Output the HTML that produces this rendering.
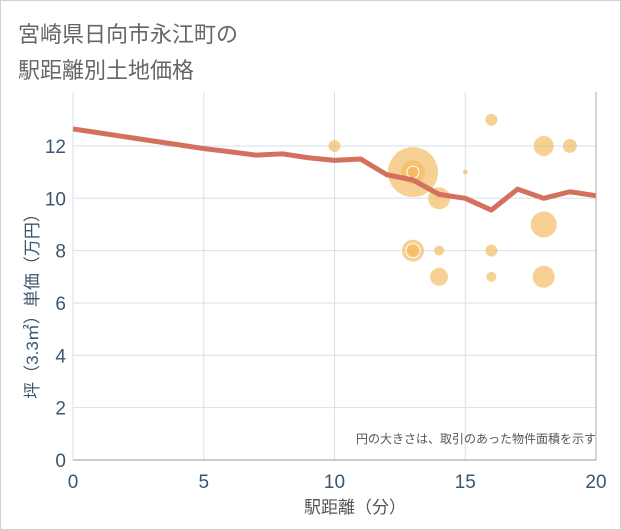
<!DOCTYPE html>
<html><head><meta charset="utf-8"><style>
body{margin:0;background:#fff;}
#wrap{position:relative;width:621px;height:530px;overflow:hidden;font-family:"Liberation Sans","Noto Sans CJK JP",sans-serif;}
</style></head><body>
<div id="wrap">
<svg id="chart" width="621" height="530" xmlns="http://www.w3.org/2000/svg">
<rect x="0.5" y="0.5" width="620" height="529" fill="#fff" stroke="#d0d0d0"/>
<text x="18" y="42" font-size="22" fill="#666" font-family="Liberation Sans, Noto Sans CJK JP, sans-serif">宮崎県日向市永江町の</text>
<text x="18" y="78" font-size="22" fill="#666" font-family="Liberation Sans, Noto Sans CJK JP, sans-serif">駅距離別土地価格</text>
<g id="grid"></g>
<g id="bubbles"></g>
<g id="line"></g>
<g id="axes"></g>
<text x="596" y="443" font-size="12" fill="#555" text-anchor="end" font-family="Liberation Sans, Noto Sans CJK JP, sans-serif">円の大きさは、取引のあった物件面積を示す</text>
<text x="355" y="513" font-size="17" fill="#555" text-anchor="middle" font-family="Liberation Sans, Noto Sans CJK JP, sans-serif">駅距離（分）</text>
<text transform="translate(38,302) rotate(-90)" font-size="17" fill="#3d5670" text-anchor="middle" font-family="Liberation Sans, Noto Sans CJK JP, sans-serif">坪（3.3㎡）単価（万円）</text>
</svg>
</div>
<script>
const xTicks=[0,5,10,15,20];
const yTicks=[0,2,4,6,8,10,12];
const lineX=[0,1,2,3,4,5,6,7,8,9,10,11,12,13,14,15,16,17,18,19,20];
const lineY=[12.65,12.5,12.35,12.2,12.05,11.9,11.78,11.65,11.7,11.55,11.45,11.5,10.9,10.7,10.15,10.0,9.55,10.35,10.0,10.25,10.1];
const bubX=[13,13,13,10,14,15,16,18,19,18,13,13,14,16,14,16,18];
const bubY=[11,11,11,12,10,11,13,12,12,9,8,8,8,8,7,7,7];
const bubR=[25,12,6,6,11,2.5,6,10,7,13,11,7,5,6,9,5,11];
const NS='http://www.w3.org/2000/svg';
const L=73,R=596,T=92,B=460;
const xs=v=>L+v/20*(R-L);
const ys=v=>B-v*26.17;
function mk(t,a){const e=document.createElementNS(NS,t);for(const k in a)e.setAttribute(k,a[k]);return e;}
const grid=document.getElementById('grid'),axes=document.getElementById('axes');
xTicks.forEach(t=>{
 const l=mk('line',{x1:xs(t),x2:xs(t),y1:T,y2:B,stroke:'#d5e0ec','stroke-width':1});
 
 
 grid.appendChild(l);
 const tx=mk('text',{x:xs(t),y:488,'font-size':19,fill:'#3d5670','text-anchor':'middle'});
 tx.textContent=t;
 
 
 axes.appendChild(tx);
});
yTicks.forEach(t=>{
 if(t>0){const l=mk('line',{x1:L,x2:R,y1:ys(t),y2:ys(t),stroke:'#d5e0ec','stroke-width':1});
 
 
 grid.appendChild(l);}
 const tx=mk('text',{x:66,y:ys(t)+7,'font-size':19,fill:'#3d5670','text-anchor':'end'});
 tx.textContent=t;
 
 
 axes.appendChild(tx);
});
const xa=mk('line',{x1:L,x2:R,y1:B,y2:B,stroke:'#999','stroke-width':1});


axes.appendChild(xa);
const ra=mk('line',{x1:R,x2:R,y1:T,y2:B,stroke:'#aaa','stroke-width':1});


axes.appendChild(ra);
const bg=document.getElementById('bubbles');
bubX.forEach((x,i)=>{
 const c=mk('circle',{cx:xs(x),cy:ys(bubY[i]),r:bubR[i],fill:'#f2b85a','fill-opacity':0.65});
 if(i===2||i===11){c.setAttribute('stroke','#fff');c.setAttribute('stroke-width','1');}
 
 
 bg.appendChild(c);
});
const pts=lineX.map((x,i)=>xs(x)+','+ys(lineY[i])).join(' ');
const pl=mk('polyline',{points:pts,fill:'none',stroke:'#d4705d','stroke-width':5,'stroke-linejoin':'round'});


document.getElementById('line').appendChild(pl);
</script>
</body></html>
